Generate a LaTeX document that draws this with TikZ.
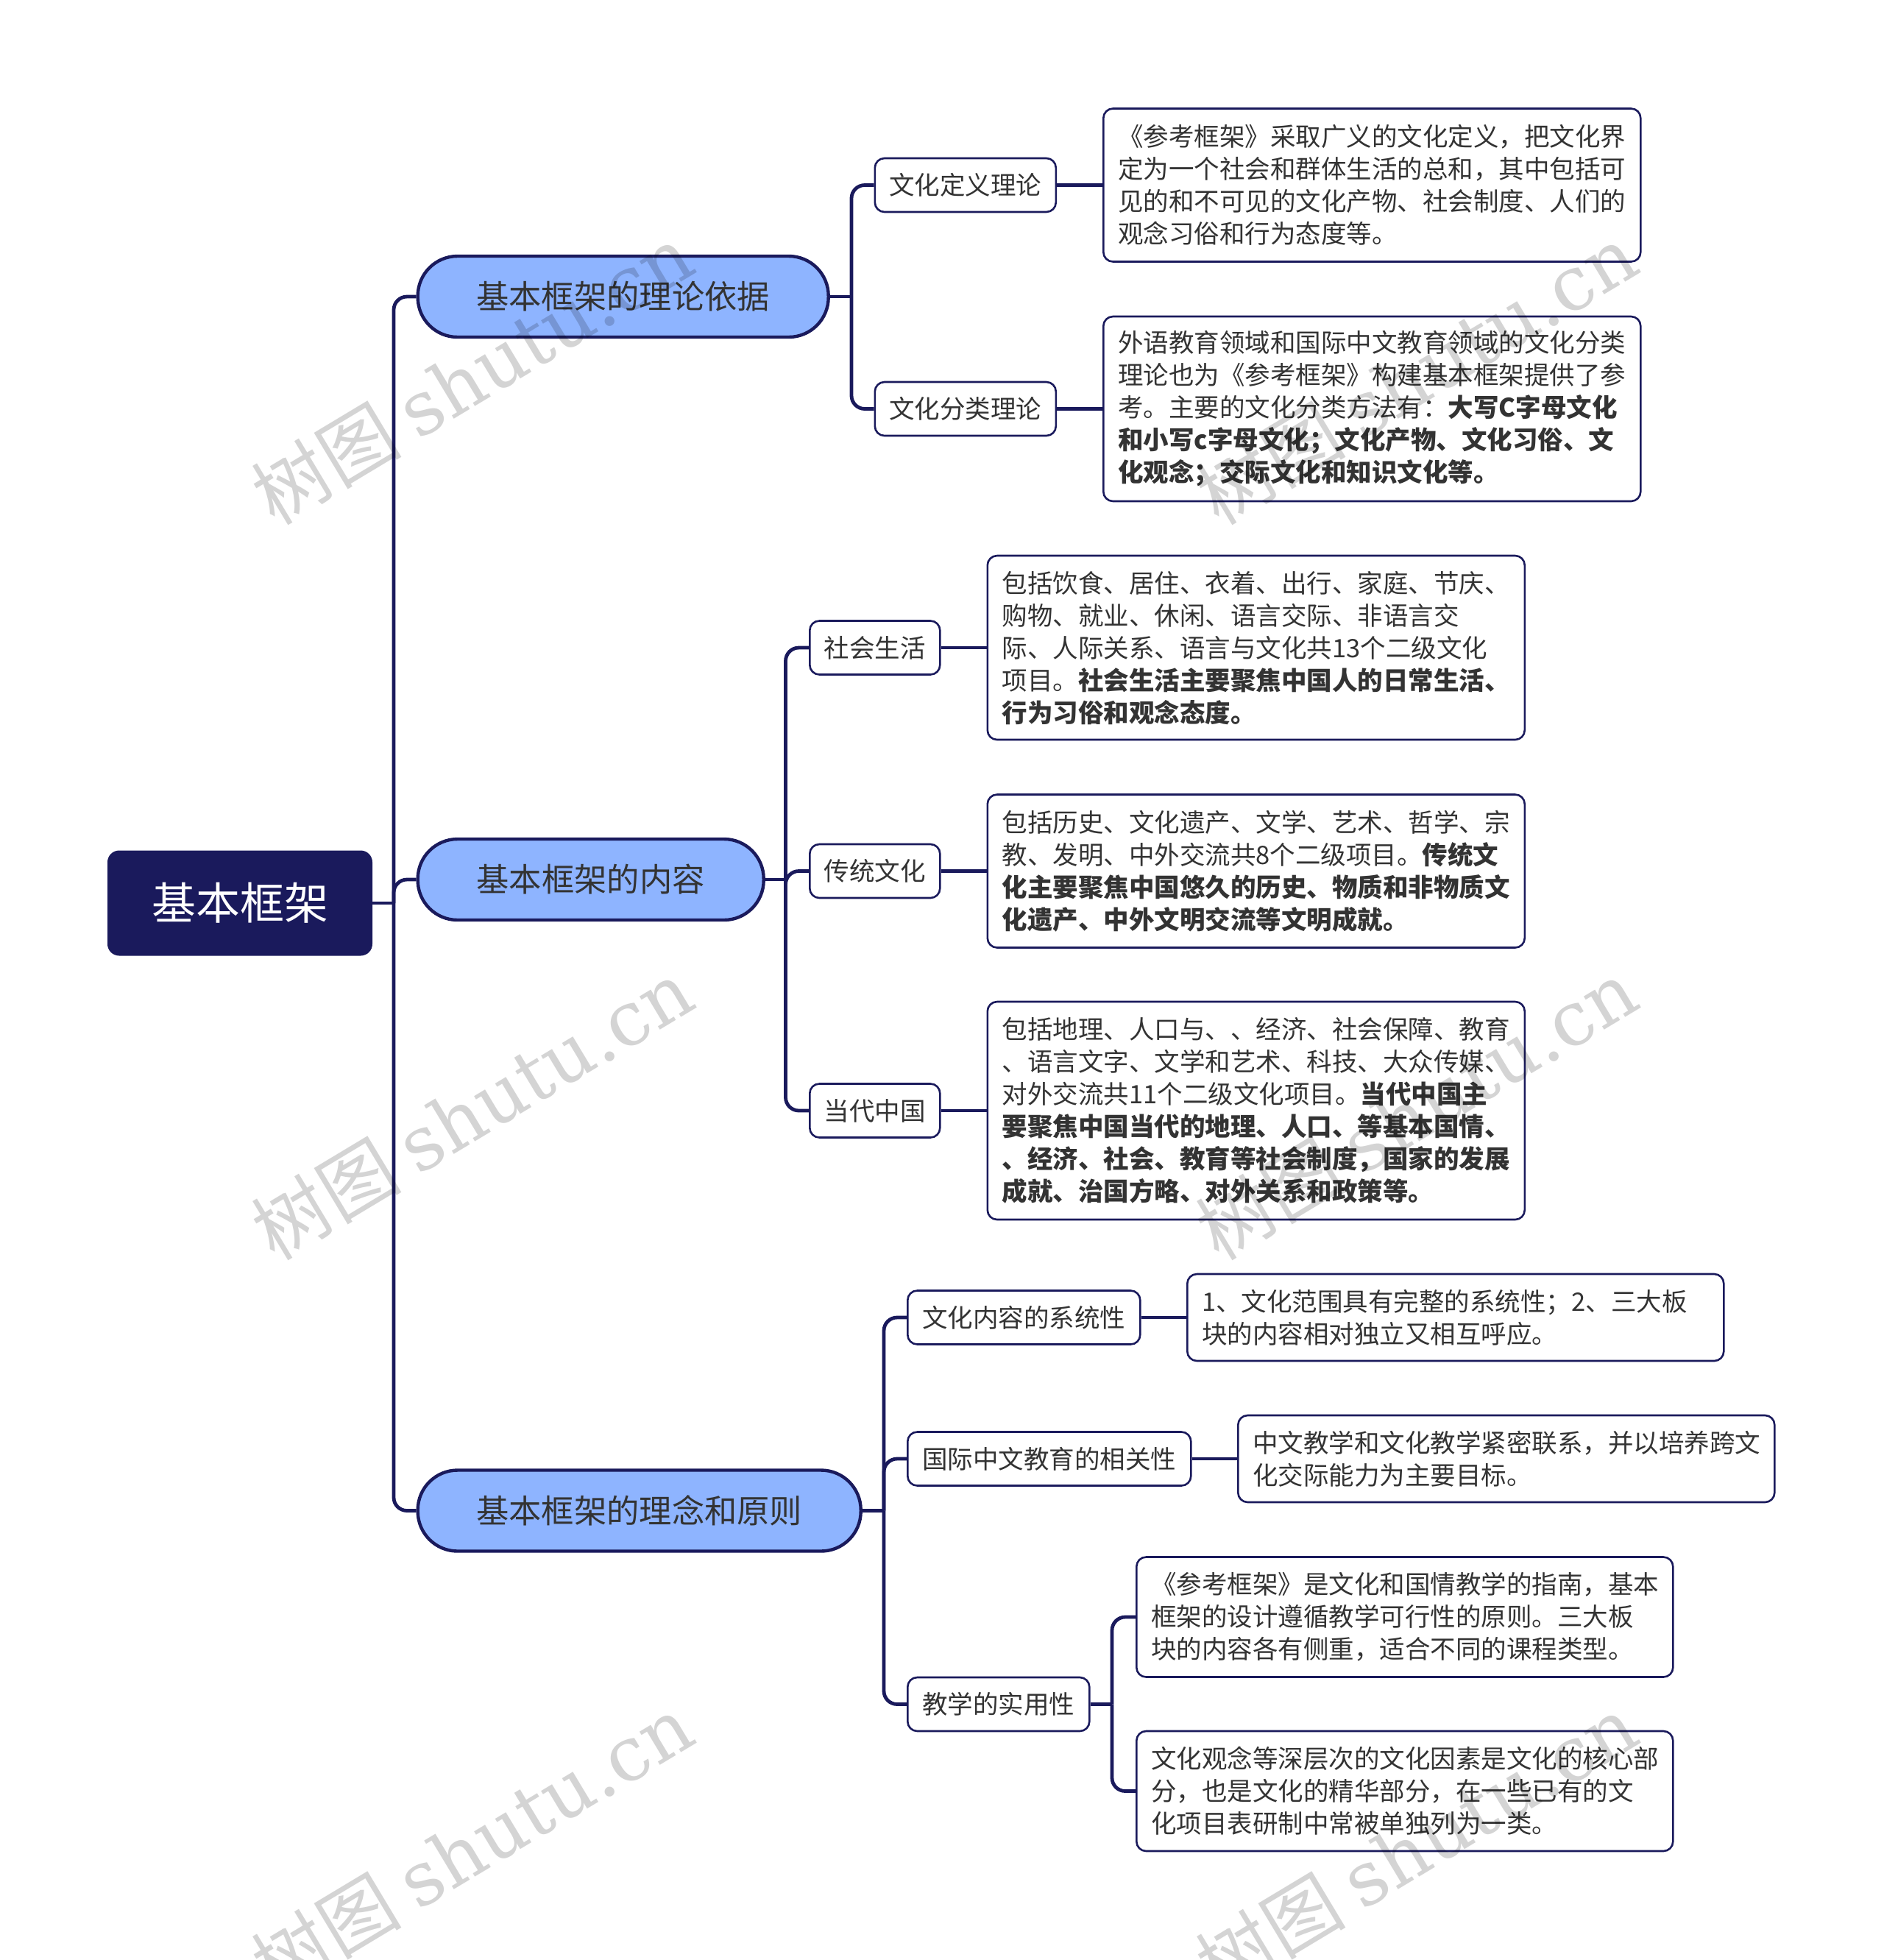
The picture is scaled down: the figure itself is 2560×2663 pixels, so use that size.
\documentclass[tikz,border=0pt]{standalone}
\usepackage{fontspec}
\setmainfont{Noto Sans CJK SC}
\newfontfamily\markserif{DejaVu Serif}
\newfontfamily\markcjk{Noto Sans CJK SC}
\usetikzlibrary{math}
\lineskiplimit=-20pt
\normallineskiplimit=-20pt
\definecolor{navy}{HTML}{1A1A5C}
\definecolor{sky}{HTML}{8EB4FF}
\definecolor{ink}{HTML}{333333}
\tikzset{
  rootbox/.style={draw=navy, fill=navy, text=white, line width=1pt, rounded corners=7.5pt,
    anchor=west, minimum width=179pt, minimum height=70.5pt, inner sep=0pt,
    font=\fontsize{30}{34}\selectfont},
  mainbox/.style={draw=navy, fill=sky, text=ink, line width=2.2pt, rounded corners=27pt,
    anchor=west, minimum height=55pt, inner sep=0pt,
    font=\fontsize{22.15}{26}\selectfont},
  subbox/.style={draw=navy, fill=white, text=ink, line width=1.3pt, rounded corners=6.5pt,
    anchor=west, minimum height=36.5pt, inner sep=0pt,
    font=\fontsize{17.25}{22}\selectfont},
  leafbox/.style={draw=navy, fill=white, text=ink, line width=1.3pt, rounded corners=6.5pt,
    anchor=west, align=left, inner xsep=10pt, inner ysep=0pt,
    font=\fontsize{17.25}{22}\selectfont},
  link/.style={draw=navy, line width=2.4pt, rounded corners=9pt},
  watermark/.style={rotate=31, text=black, opacity=0.17, inner sep=0pt},
}
\begin{document}
\begin{tikzpicture}[x=0.5pt,y=-0.5pt]

  \useasboundingbox (0,0) rectangle (2560,2663);

  \tikzmath{
    \trunkx  = 535;    % x of the line out of the root
    \branchA = 1157;   % x of the first branch line
    \branchB = 1067.5; % x of the second branch line
    \branchC = 1201;   % x of the third branch line
    \branchD = 1511;   % x of the line that splits the last leaves
  }

  % Root and the three main topics
  \node[rootbox] (root) at (146,1227) {基本框架};
  \node[mainbox, minimum width=279pt] (mainA) at (565.5,403) {基本框架的理论依据};
  \node[mainbox, minimum width=235pt] (mainB) at (565.5,1195) {基本框架的内容};
  \node[mainbox, minimum width=301pt] (mainC) at (565.5,2052.5) {基本框架的理念和原则};

  % First group
  \node[subbox, minimum width=123pt] (subAa) at (1187.5,251.5) {文化定义理论};
  \node[subbox, minimum width=123pt] (subAb) at (1187.5,555.5) {文化分类理论};
  \node[leafbox, text width=345pt, minimum height=104pt] (leafAa) at (1498,251.5)
    {《参考框架》采取广义的文化定义，把文化界\\定为一个社会和群体生活的总和，其中包括可\\见的和不可见的文化产物、社会制度、人们的\\观念习俗和行为态度等。};
  \node[leafbox, text width=345pt, minimum height=125.5pt] (leafAb) at (1498,555.5)
    {外语教育领域和国际中文教育领域的文化分类\\理论也为《参考框架》构建基本框架提供了参\\考。主要的文化分类方法有：\textbf{大写C字母文化}\\\textbf{和小写c字母文化；文化产物、文化习俗、文}\\\textbf{化观念；交际文化和知识文化等。}};

  % Second group
  \node[subbox, minimum width=88.5pt] (subBa) at (1099,880) {社会生活};
  \node[subbox, minimum width=88.5pt] (subBb) at (1099,1183.5) {传统文化};
  \node[subbox, minimum width=88.5pt] (subBc) at (1099,1509) {当代中国};
  \node[leafbox, text width=345pt, minimum height=125pt] (leafBa) at (1340.5,880)
    {包括饮食、居住、衣着、出行、家庭、节庆、\\购物、就业、休闲、语言交际、非语言交\\际、人际关系、语言与文化共13个二级文化\\项目。\textbf{社会生活主要聚焦中国人的日常生活、}\\\textbf{行为习俗和观念态度。}};
  \node[leafbox, text width=345pt, minimum height=104pt] (leafBb) at (1340.5,1183.5)
    {包括历史、文化遗产、文学、艺术、哲学、宗\\教、发明、中外交流共8个二级项目。\textbf{传统文}\\\textbf{化主要聚焦中国悠久的历史、物质和非物质文}\\\textbf{化遗产、中外文明交流等文明成就。}};
  \node[leafbox, text width=345pt, minimum height=148pt] (leafBc) at (1340.5,1509)
    {包括地理、人口与、、经济、社会保障、教育\\、语言文字、文学和艺术、科技、大众传媒、\\对外交流共11个二级文化项目。\textbf{当代中国主}\\\textbf{要聚焦中国当代的地理、人口、等基本国情、}\\\textbf{、经济、社会、教育等社会制度，国家的发展}\\\textbf{成就、治国方略、对外关系和政策等。}};

  % Third group
  \node[subbox, minimum width=158pt] (subCa) at (1232,1790) {文化内容的系统性};
  \node[subbox, minimum width=192.5pt] (subCb) at (1232,1982) {国际中文教育的相关性};
  \node[subbox, minimum width=123.5pt] (subCc) at (1232,2315.5) {教学的实用性};
  \node[leafbox, text width=344.5pt, minimum height=59pt] (leafCa) at (1612,1790)
    {1、文化范围具有完整的系统性；2、三大板\\块的内容相对独立又相互呼应。};
  \node[leafbox, text width=344.5pt, minimum height=59pt] (leafCb) at (1681,1982)
    {中文教学和文化教学紧密联系，并以培养跨文\\化交际能力为主要目标。};
  \node[leafbox, text width=344.5pt, minimum height=81.5pt] (leafCc) at (1543,2197)
    {《参考框架》是文化和国情教学的指南，基本\\框架的设计遵循教学可行性的原则。三大板\\块的内容各有侧重，适合不同的课程类型。};
  \node[leafbox, text width=344.5pt, minimum height=81.5pt] (leafCd) at (1543,2433.5)
    {文化观念等深层次的文化因素是文化的核心部\\分，也是文化的精华部分，在一些已有的文\\化项目表研制中常被单独列为一类。};

  % Junctions of the branch lines
  \coordinate (trunk) at (\trunkx,1227);
  \coordinate (jointA) at (\branchA,403);
  \coordinate (jointB) at (\branchB,1195);
  \coordinate (jointC) at (\branchC,2052.5);
  \coordinate (jointD) at (\branchD,2315.5);

  % Connectors
  \draw[link] (root.east) -- (trunk);
  \foreach \child in {mainA,mainB,mainC}
    \draw[link] (trunk) |- (\child.west);

  \draw[link] (mainA.east) -- (jointA);
  \foreach \child in {subAa,subAb}
    \draw[link] (jointA) |- (\child.west);
  \draw[link] (mainB.east) -- (jointB);
  \foreach \child in {subBa,subBb,subBc}
    \draw[link] (jointB) |- (\child.west);
  \draw[link] (mainC.east) -- (jointC);
  \foreach \child in {subCa,subCb,subCc}
    \draw[link] (jointC) |- (\child.west);

  \draw[link] (subAa.east) -- (leafAa.west);
  \draw[link] (subAb.east) -- (leafAb.west);
  \draw[link] (subBa.east) -- (leafBa.west);
  \draw[link] (subBb.east) -- (leafBb.west);
  \draw[link] (subBc.east) -- (leafBc.west);
  \draw[link] (subCa.east) -- (leafCa.west);
  \draw[link] (subCb.east) -- (leafCb.west);

  \draw[link] (subCc.east) -- (jointD);
  \foreach \child in {leafCc,leafCd}
    \draw[link] (jointD) |- (\child.west);

  % Watermarks
  \foreach \wx in {642,1925}
    \foreach \wy in {509,1508,2507}
      \node[watermark] at (\wx,\wy)
        {\fontsize{51}{51}\selectfont\markcjk 树图 \markserif shutu.cn};

\end{tikzpicture}
\end{document}
